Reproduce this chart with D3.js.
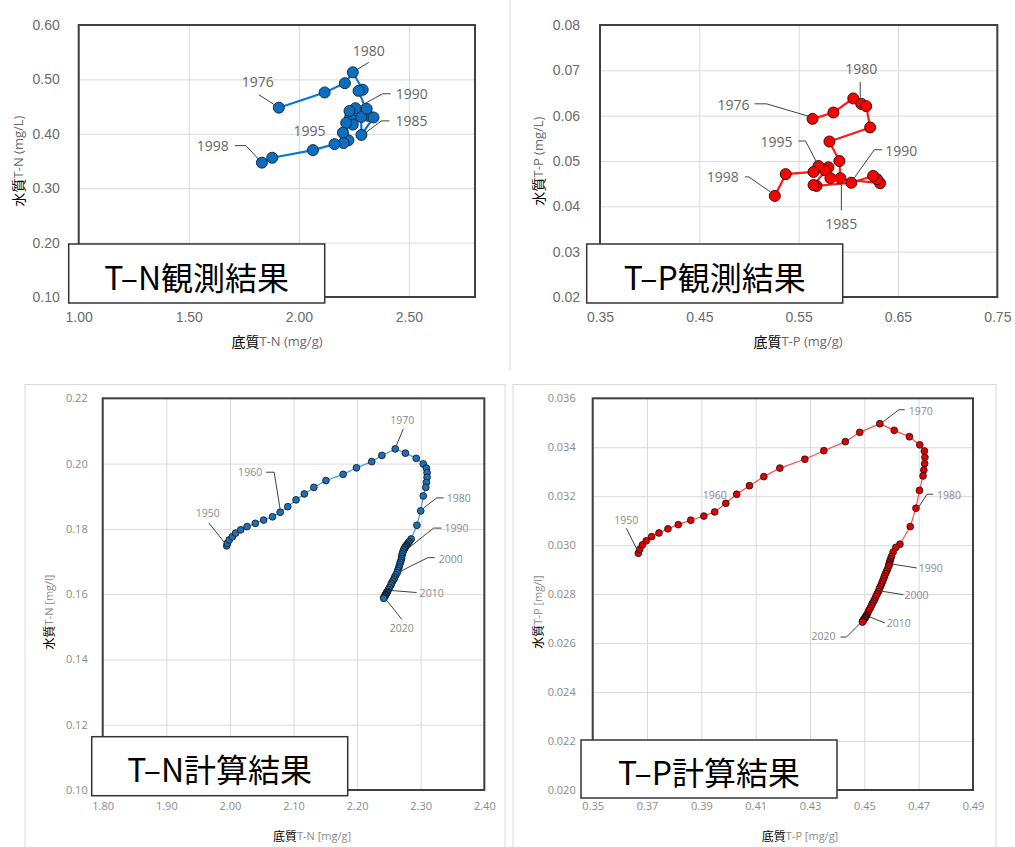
<!DOCTYPE html>
<html>
<head>
<meta charset="utf-8">
<script src="https://cdn.jsdelivr.net/npm/d3@7"></script>
<style>
  body { margin: 0; background: #fff; }
  svg { display: block; font-family: "Open Sans", "Liberation Sans", sans-serif; }
  .grid line { stroke: #d9d9d9; stroke-width: 1; }
  .grid path, .axis path { display: none; }
  .axis text { fill: #6b6b6b; }
  .axis.big text { font-size: 14px; }
  .axis.small text { font-size: 11px; font-family: "Open Sans", sans-serif; fill: #8a8a8a; }
  .frame { fill: none; stroke: #404040; stroke-width: 2; }
  .leader { fill: none; stroke: #404040; stroke-width: 1; }
  .note.big { font-size: 14px; fill: #666; }
  .note.small { font-size: 10.5px; fill: #8a8a8a; font-family: "Open Sans", sans-serif; }
  .tag rect { fill: #fff; stroke: #333; stroke-width: 1.5; }
  .tag text { font-family: "Noto Sans CJK JP", sans-serif; font-size: 32px; fill: #000; }
  .cjk { font-family: "Noto Sans CJK JP", sans-serif; fill: #000; }
</style>
</head>
<body>
<script>
// observed (1976-1998): sediment T-N [mg/g], water T-N [mg/L]
const tnObsSed   = [1.909, 2.117, 2.209, 2.245, 2.290, 2.271, 2.317, 2.339, 2.284, 2.283, 2.233, 2.257,
                    2.230, 2.308, 2.245, 2.215, 2.225, 2.200, 2.203, 2.162, 2.064, 1.879, 1.832];
const tnObsWater = [0.448, 0.476, 0.493, 0.513, 0.481, 0.479, 0.433, 0.430, 0.398, 0.431, 0.431, 0.447,
                    0.442, 0.446, 0.417, 0.420, 0.388, 0.402, 0.383, 0.381, 0.370, 0.356, 0.347];

// observed: sediment T-P [mg/g], water T-P [mg/L]
const tpObsSed   = [0.564, 0.585, 0.605, 0.613, 0.618, 0.622, 0.581, 0.591, 0.592, 0.582, 0.632,
                    0.629, 0.625, 0.603, 0.568, 0.565, 0.580, 0.576, 0.570, 0.565, 0.537, 0.526];
const tpObsWater = [0.0593, 0.0607, 0.0638, 0.0626, 0.0621, 0.0574, 0.0543, 0.0500, 0.0462, 0.0462, 0.0451,
                    0.0460, 0.0467, 0.0452, 0.0445, 0.0447, 0.0486, 0.0480, 0.0489, 0.0476, 0.0471, 0.0423];

// calculated (1950-2020)
const tnCalcSed = [
  1.995, 1.996, 1.999, 2.004, 2.009, 2.017, 2.027, 2.040, 2.053, 2.067,
  2.079, 2.091, 2.104, 2.117, 2.132, 2.151, 2.178, 2.199, 2.223, 2.239,
  2.260, 2.276, 2.293, 2.304, 2.309, 2.310, 2.310, 2.309, 2.308, 2.304,
  2.300, 2.294, 2.285, 2.282, 2.280, 2.278, 2.277, 2.276, 2.275, 2.274,
  2.273, 2.272, 2.271, 2.270, 2.270, 2.269, 2.268, 2.267, 2.266, 2.265,
  2.264, 2.263, 2.261, 2.259, 2.258, 2.256, 2.254, 2.253, 2.251, 2.249,
  2.248, 2.247, 2.246, 2.246, 2.245, 2.245, 2.244, 2.243, 2.243, 2.242, 2.242];
const tnCalcWater = [
  0.1748, 0.1756, 0.1766, 0.1776, 0.1787, 0.1797, 0.1807, 0.1817, 0.1827, 0.1837,
  0.1851, 0.1868, 0.1889, 0.1907, 0.1927, 0.1948, 0.1967, 0.1987, 0.2006, 0.2025,
  0.2045, 0.2032, 0.2016, 0.1999, 0.1986, 0.1972, 0.1958, 0.1942, 0.1927, 0.1901,
  0.1855, 0.1811, 0.1769, 0.1761, 0.1756, 0.1751, 0.1748, 0.1745, 0.1742, 0.1738,
  0.1735, 0.1729, 0.1723, 0.1716, 0.1709, 0.1703, 0.1697, 0.1691, 0.1684, 0.1678,
  0.1672, 0.1666, 0.1659, 0.1652, 0.1646, 0.1640, 0.1633, 0.1627, 0.1620, 0.1614,
  0.1608, 0.1606, 0.1604, 0.1602, 0.1599, 0.1598, 0.1595, 0.1593, 0.1591, 0.1589, 0.1587];

const tpCalcSed = [
  0.3668, 0.3673, 0.3683, 0.3697, 0.3717, 0.3744, 0.3777, 0.3815, 0.3861, 0.3909,
  0.3949, 0.3990, 0.4030, 0.4077, 0.4130, 0.4189, 0.4281, 0.4351, 0.4430, 0.4483,
  0.4557, 0.4610, 0.4666, 0.4704, 0.4721, 0.4723, 0.4722, 0.4719, 0.4716, 0.4703,
  0.4690, 0.4669, 0.4631, 0.4616, 0.4606, 0.4600, 0.4596, 0.4594, 0.4592, 0.4591,
  0.4590, 0.4586, 0.4582, 0.4578, 0.4574, 0.4571, 0.4567, 0.4563, 0.4559, 0.4555,
  0.4552, 0.4547, 0.4543, 0.4539, 0.4535, 0.4530, 0.4526, 0.4522, 0.4517, 0.4513,
  0.4509, 0.4507, 0.4506, 0.4504, 0.4502, 0.4501, 0.4499, 0.4497, 0.4496, 0.4494, 0.4493];
const tpCalcWater = [
  0.02967, 0.02983, 0.03001, 0.03018, 0.03035, 0.03050, 0.03067, 0.03084, 0.03102, 0.03119,
  0.03136, 0.03171, 0.03208, 0.03243, 0.03280, 0.03315, 0.03351, 0.03386, 0.03423, 0.03461,
  0.03496, 0.03469, 0.03443, 0.03410, 0.03385, 0.03359, 0.03333, 0.03307, 0.03283, 0.03224,
  0.03151, 0.03076, 0.03004, 0.02991, 0.02972, 0.02954, 0.02942, 0.02933, 0.02927, 0.02921,
  0.02915, 0.02904, 0.02894, 0.02884, 0.02873, 0.02863, 0.02852, 0.02841, 0.02831, 0.02821,
  0.02810, 0.02801, 0.02791, 0.02781, 0.02772, 0.02763, 0.02753, 0.02743, 0.02734, 0.02724,
  0.02715, 0.02712, 0.02709, 0.02706, 0.02703, 0.02701, 0.02698, 0.02695, 0.02692, 0.02689, 0.02686];

// ticks
const tnObsXTicks = [1.0, 1.5, 2.0, 2.5];
const tnObsYTicks = [0.1, 0.2, 0.3, 0.4, 0.5, 0.6];
const tpObsXTicks = [0.35, 0.45, 0.55, 0.65, 0.75];
const tpObsYTicks = [0.02, 0.03, 0.04, 0.05, 0.06, 0.07, 0.08];
const tnCalcXTicks = [1.8, 1.9, 2.0, 2.1, 2.2, 2.3, 2.4];
const tnCalcYTicks = [0.10, 0.12, 0.14, 0.16, 0.18, 0.20, 0.22];
const tpCalcXTicks = [0.35, 0.37, 0.39, 0.41, 0.43, 0.45, 0.47, 0.49];
const tpCalcYTicks = [0.020, 0.022, 0.024, 0.026, 0.028, 0.030, 0.032, 0.034, 0.036];

// year labels: text, index into the series
const tnObsNotes  = [["1976", 0], ["1980", 3], ["1985", 8], ["1990", 13], ["1995", 18], ["1998", 22]];
const tpObsNotes  = [["1976", 0], ["1980", 3], ["1985", 8], ["1990", 13], ["1995", 18], ["1998", 21]];
const calcNotes   = [["1950", 0], ["1960", 10], ["1970", 20], ["1980", 30], ["1990", 40],
                     ["2000", 50], ["2010", 60], ["2020", 70]];

// where each label sits, relative to its point: text offset, anchor, leader path
const tnObsPlace = {
  "1976": {t: [-21, -26, "middle"], l: [[-20, -13], [-3, -2]]},
  "1980": {t: [16, -22, "middle"], l: [[16, -10], [3, -2]]},
  "1985": {t: [34, -14, "start"], l: [[28, -14], [20, -14], [4, -2]]},
  "1990": {t: [29, -15, "start"], l: [[24, -15], [16, -15], [-6, -3]]},
  "1995": {t: [-34, -13, "middle"], l: null},
  "1998": {t: [-33, -17, "end"], l: [[-27, -17], [-16, -17], [-2, -2]]}
};
const tpObsPlace = {
  "1976": {t: [-63, -14, "end"], l: [[-58, -15], [-46, -15], [-2, -2]]},
  "1980": {t: [0, -35, "middle"], l: [[-1, -22], [-1, -3]]},
  "1985": {t: [1, 45, "middle"], l: [[1, 3], [1, 32]]},
  "1990": {t: [34, -32, "start"], l: [[31, -33], [23, -33], [1, -2]]},
  "1995": {t: [-26, -24, "end"], l: [[-20, -25], [-13, -25], [-1, -2]]},
  "1998": {t: [-36, -19, "end"], l: [[-30, -19], [-26, -19], [-3, -3]]}
};
const tnCalcPlace = {
  "1950": {t: [-19, -33, "middle"], l: [[-18, -23], [-2, -3]]},
  "1960": {t: [-30, -40, "middle"], l: [[-14, -40], [-6, -40], [0, -3]]},
  "1970": {t: [7, -29, "middle"], l: [[8, -20], [1, -3]]},
  "1980": {t: [26, -13, "start"], l: [[23, -13], [16, -13], [3, -3]]},
  "1990": {t: [41, -22, "start"], l: [[38, -22], [30, -22], [5, -2]]},
  "2000": {t: [41, -12, "start"], l: [[37, -13], [30, -13], [2, 1]]},
  "2010": {t: [32, 1, "start"], l: [[29, 1], [4, -1]]},
  "2020": {t: [18, 30, "middle"], l: [[18, 21], [3, 2]]}
};
const tpCalcPlace = {
  "1950": {t: [-12, -33, "middle"], l: [[-12, -25], [-1, -3]]},
  "1960": {t: [0, -17, "middle"], l: null},
  "1970": {t: [29, -13, "start"], l: [[25, -14], [19, -14], [2, -1]]},
  "1980": {t: [21, -13, "start"], l: [[17, -14], [11, -14], [2, 0]]},
  "1990": {t: [30, 2, "start"], l: [[28, 2], [3, -2]]},
  "2000": {t: [26, 3, "start"], l: [[25, 3], [0, -1]]},
  "2010": {t: [20, 8, "start"], l: [[18, 8], [3, 2]]},
  "2020": {t: [-27, 14, "end"], l: [[-22, 15], [-16, 15], [-2, 1]]}
};

const svg = d3.select("body")
              .append("svg")
              .attr("width", 1015)
              .attr("height", 847);

// outer chart-area borders
svg.append("line")
   .attr("x1", 510).attr("x2", 510)
   .attr("y1", 0).attr("y2", 371)
   .attr("stroke", "#d9d9d9");
svg.append("rect")
   .attr("x", 25).attr("y", 384.5)
   .attr("width", 480).attr("height", 480)
   .attr("fill", "none").attr("stroke", "#d9d9d9");
svg.append("rect")
   .attr("x", 513).attr("y", 384.5)
   .attr("width", 483).attr("height", 480)
   .attr("fill", "none").attr("stroke", "#d9d9d9");

function drawPanel(p) {
  const g = svg.append("g")
               .attr("transform", `translate(${p.left},${p.top})`);

  const x = d3.scaleLinear().domain(p.xDomain).range([0, p.width]);
  const y = d3.scaleLinear().domain(p.yDomain).range([p.height, 0]);

  g.append("g")
   .attr("class", "grid")
   .attr("transform", `translate(0,${p.height})`)
   .call(d3.axisBottom(x).tickValues(p.xTicks).tickSize(-p.height).tickFormat(""));

  g.append("g")
   .attr("class", "grid")
   .call(d3.axisLeft(y).tickValues(p.yTicks).tickSize(-p.width).tickFormat(""));

  g.append("g")
   .attr("class", "axis " + p.size)
   .attr("transform", `translate(0,${p.height})`)
   .call(d3.axisBottom(x).tickValues(p.xTicks).tickSize(0)
           .tickPadding(p.xPad).tickFormat(d3.format(p.xFmt)));

  g.append("g")
   .attr("class", "axis " + p.size)
   .call(d3.axisLeft(y).tickValues(p.yTicks).tickSize(0)
           .tickPadding(p.yPad).tickFormat(d3.format(p.yFmt)));

  g.append("rect")
   .attr("class", "frame")
   .attr("width", p.width)
   .attr("height", p.height);

  const pts = p.xs.map((v, i) => [v, p.ys[i]]);

  g.append("path")
   .datum(pts)
   .attr("fill", "none")
   .attr("stroke", p.lineColor)
   .attr("stroke-width", p.lineWidth)
   .attr("d", d3.line().x(d => x(d[0])).y(d => y(d[1])));

  g.selectAll("circle")
   .data(pts)
   .join("circle")
   .attr("cx", d => x(d[0]))
   .attr("cy", d => y(d[1]))
   .attr("r", p.r)
   .attr("fill", p.fill)
   .attr("stroke", p.markStroke)
   .attr("stroke-width", p.size === "big" ? 1 : 0.8);

  // year labels with leader lines
  p.notes.forEach(([label, i]) => {
    const px = x(pts[i][0]);
    const py = y(pts[i][1]);
    const s = p.place[label];
    if (s.l) {
      g.append("path")
       .attr("class", "leader")
       .attr("stroke-width", p.size === "big" ? 1 : 0.8)
       .attr("d", d3.line()(s.l.map(o => [px + o[0], py + o[1]])));
    }
    g.append("text")
     .attr("class", "note " + p.size)
     .attr("x", px + s.t[0])
     .attr("y", py + s.t[1])
     .attr("text-anchor", s.t[2])
     .attr("dominant-baseline", "central")
     .text(label);
  });

  // axis titles
  const big = p.size === "big";
  const xt = svg.append("text")
                .attr("x", p.xTitle[0])
                .attr("y", p.xTitle[1])
                .attr("text-anchor", "middle")
                .attr("dominant-baseline", "central");
  xt.append("tspan").attr("class", "cjk").attr("font-size", big ? 14 : 12).text("底質");
  xt.append("tspan")
    .attr("fill", big ? "#6b6b6b" : "#8a8a8a")
    .attr("font-size", big ? 13 : 11)
    .text(p.xLabel);

  const yt = svg.append("text")
                .attr("x", p.yTitle[0])
                .attr("y", p.yTitle[1])
                .attr("text-anchor", "middle")
                .attr("dominant-baseline", "central")
                .attr("transform", `rotate(-90,${p.yTitle[0]},${p.yTitle[1]})`);
  yt.append("tspan").attr("class", "cjk").attr("font-size", big ? 14 : 12).text("水質");
  yt.append("tspan")
    .attr("fill", big ? "#6b6b6b" : "#8a8a8a")
    .attr("font-size", big ? 13 : 11)
    .text(p.yLabel);

  // boxed title
  const tag = svg.append("g").attr("class", "tag");
  tag.append("rect")
     .attr("x", p.tag[0]).attr("y", p.tag[1])
     .attr("width", p.tag[2]).attr("height", p.tag[3]);
  tag.append("text")
     .attr("x", p.tag[0] + p.tag[2] / 2)
     .attr("y", p.tag[1] + p.tag[3] / 2 + 2)
     .attr("text-anchor", "middle")
     .attr("dominant-baseline", "central")
     .text(p.title);
}

drawPanel({
  left: 78.7, top: 25, width: 396.3, height: 272, size: "big",
  xDomain: [1.0, 2.8], yDomain: [0.1, 0.6], xTicks: tnObsXTicks, yTicks: tnObsYTicks,
  xFmt: ".2f", yFmt: ".2f", xPad: 15, yPad: 19,
  xs: tnObsSed, ys: tnObsWater,
  lineColor: "#0a78d0", lineWidth: 2.2, r: 5.5, fill: "#0a6fc2", markStroke: "#1b2a3a",
  notes: tnObsNotes, place: tnObsPlace,
  xTitle: [277, 341], yTitle: [18, 161], xLabel: "T-N (mg/g)", yLabel: "T-N (mg/L)",
  tag: [68.7, 244, 256, 59], title: "T–N観測結果"
});

drawPanel({
  left: 600, top: 25, width: 397.3, height: 272, size: "big",
  xDomain: [0.35, 0.75], yDomain: [0.02, 0.08], xTicks: tpObsXTicks, yTicks: tpObsYTicks,
  xFmt: ".2f", yFmt: ".2f", xPad: 15, yPad: 20,
  xs: tpObsSed, ys: tpObsWater,
  lineColor: "#ff1a1a", lineWidth: 2.2, r: 5.5, fill: "#ff0000", markStroke: "#3a0a0a",
  notes: tpObsNotes, place: tpObsPlace,
  xTitle: [798, 341], yTitle: [538, 161], xLabel: "T-P (mg/g)", yLabel: "T-P (mg/L)",
  tag: [586.7, 244, 256, 59], title: "T–P観測結果"
});

drawPanel({
  left: 102.7, top: 398.3, width: 381.6, height: 391.7, size: "small",
  xDomain: [1.8, 2.4], yDomain: [0.10, 0.22], xTicks: tnCalcXTicks, yTicks: tnCalcYTicks,
  xFmt: ".2f", yFmt: ".2f", xPad: 12, yPad: 15,
  xs: tnCalcSed, ys: tnCalcWater,
  lineColor: "#4a9ce0", lineWidth: 1.2, r: 3.4, fill: "#1f6fb8", markStroke: "#111",
  notes: calcNotes, place: tnCalcPlace,
  xTitle: [312, 835], yTitle: [48, 612], xLabel: "T-N [mg/g]", yLabel: "T-N [mg/l]",
  tag: [91.7, 736.7, 256, 59], title: "T–N計算結果"
});

drawPanel({
  left: 592.7, top: 398.3, width: 380.3, height: 391.7, size: "small",
  xDomain: [0.35, 0.49], yDomain: [0.020, 0.036], xTicks: tpCalcXTicks, yTicks: tpCalcYTicks,
  xFmt: ".2f", yFmt: ".3f", xPad: 12, yPad: 17,
  xs: tpCalcSed, ys: tpCalcWater,
  lineColor: "#ff4a4a", lineWidth: 1.2, r: 3.4, fill: "#e00000", markStroke: "#111",
  notes: calcNotes, place: tpCalcPlace,
  xTitle: [800, 835], yTitle: [537, 612], xLabel: "T-P [mg/g]", yLabel: "T-P [mg/l]",
  tag: [581, 740, 256, 58], title: "T–P計算結果"
});
</script>
</body>
</html>
